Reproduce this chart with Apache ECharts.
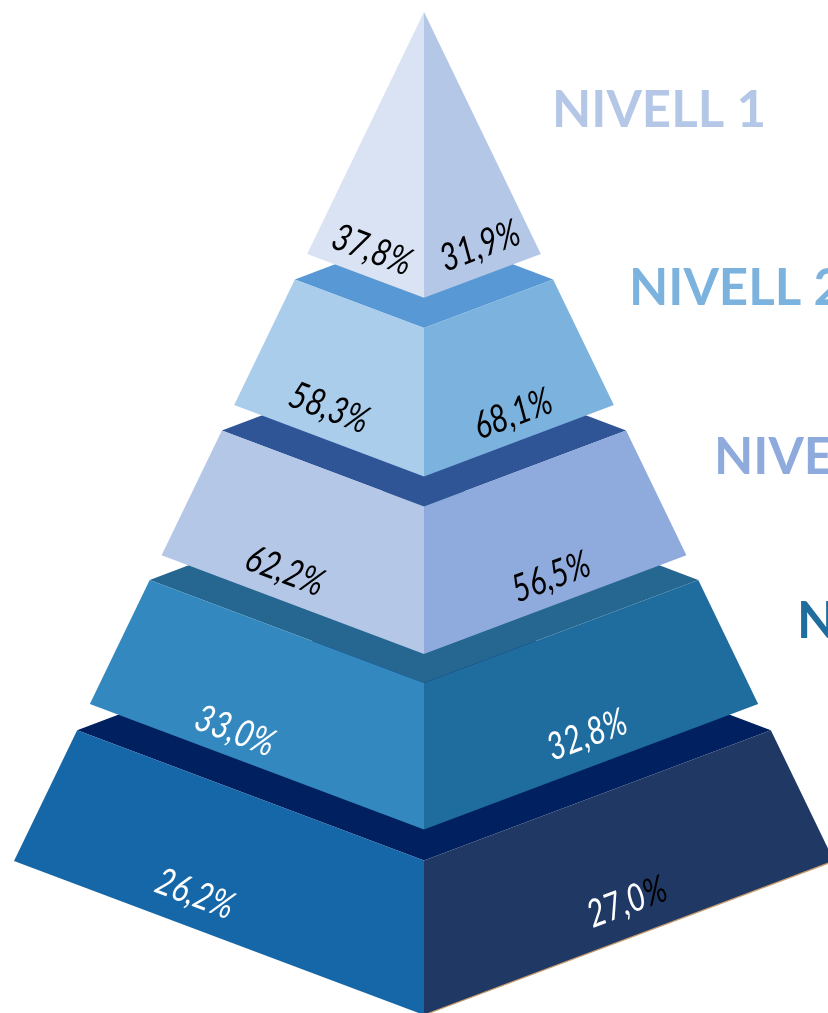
<!DOCTYPE html>
<html>
<head>
<meta charset="utf-8">
<title>Piràmide de nivells</title>
<style>
html, body { margin: 0; padding: 0; background: #ffffff; overflow: hidden; }
#chart { width: 828px; height: 1013px; }
</style>
<script src="https://cdn.jsdelivr.net/npm/echarts@6/dist/echarts.min.js"></script>
</head>
<body>
<div id="chart"></div>
<script>
// values, top level of the pyramid first
var levelNames = ['NIVELL 1', 'NIVELL 2', 'NIVELL 3', 'NIVELL 4'];
var leftValues = [37.8, 58.3, 62.2, 33.0, 26.2];
var rightValues = [31.9, 68.1, 56.5, 32.8, 27.0];

// where each band starts and ends, as a share of the pyramid height
var bandTop = [0, 0.315, 0.493, 0.669, 0.846];
var bandBottom = [0.285, 0.463, 0.64, 0.815, 1];

// pyramid shape in axis units
var centerX = 424, apexY = 12, shapeWidth = 410, shapeHeight = 849, shapeDepth = 154;

var ledgeColors = [null, '#5898D4', '#2F5597', '#256791', '#002060'];
var leftColors = ['#DAE3F3', '#A9CDEB', '#B4C7E7', '#3288BF', '#1667A8'];
var rightColors = ['#B4C7E7', '#7CB3DE', '#8FAADC', '#1F6C9E', '#203864'];
var nameColors = ['#B4C7E7', '#7CB3DE', '#8FAADC', '#1F6C9E'];
var valueColors = ['#000000', '#000000', '#000000', '#ffffff', '#ffffff'];

var namePos = [[552, 111], [629, 289], [714, 458], [797, 622]];
var leftLabelPos = [[372, 250], [329, 408], [285, 571], [235, 731], [195, 894]];
var rightLabelPos = [[480, 246], [513, 414], [551, 577], [587, 735], [627, 902]];

var slant = Math.atan(0.378);

function cut(t) {
    var side = apexY + t * shapeHeight;
    return { w: t * shapeWidth, side: side, front: side + t * shapeDepth };
}

function formatValue(v) {
    return v.toFixed(1).replace('.', ',') + '%';
}

function renderLevel(params, api) {
    var i = api.value(0);
    var top = cut(bandTop[i]);
    var bottom = cut(bandBottom[i]);
    var children = [];

    function poly(points, color) {
        children.push({
            type: 'polygon',
            shape: { points: points.map(function (p) { return api.coord(p); }) },
            style: { fill: color }
        });
    }

    function label(pos, text, rotation, color) {
        var c = api.coord(pos);
        var style = {
            text: text,
            fill: color,
            font: 'italic 33px Lato',
            align: 'center',
            verticalAlign: 'middle'
        };
        // the % of the bottom right band sits dark on the navy face in the original
        if (i === 4 && rotation > 0) {
            style.text = '{a|' + text.slice(0, -1) + '}{b|%}';
            style.rich = {
                a: { fill: color, font: 'italic 33px Lato' },
                b: { fill: '#000000', font: 'italic 33px Lato' }
            };
        }
        children.push({
            type: 'text',
            x: c[0],
            y: c[1],
            rotation: rotation,
            scaleX: 0.92,
            scaleY: 1.15,
            style: style
        });
    }

    if (ledgeColors[i]) {
        poly([
            [centerX - top.w, top.side],
            [centerX, top.side - top.w * 0.378],
            [centerX + top.w, top.side],
            [centerX, top.front]
        ], ledgeColors[i]);
    }

    poly([
        [centerX, top.front],
        [centerX - top.w, top.side],
        [centerX - bottom.w, bottom.side],
        [centerX, bottom.front]
    ], leftColors[i]);

    poly([
        [centerX, top.front],
        [centerX + top.w, top.side],
        [centerX + bottom.w, bottom.side],
        [centerX, bottom.front]
    ], rightColors[i]);

    // thin orange edge under the right face of the base
    if (i === leftValues.length - 1) {
        children.push({
            type: 'polyline',
            shape: {
                points: [
                    api.coord([centerX, bottom.front]),
                    api.coord([centerX + bottom.w, bottom.side])
                ]
            },
            style: { stroke: '#C49A6C', lineWidth: 1.2, fill: null }
        });
    }

    label(leftLabelPos[i], formatValue(api.value(1)), -slant, valueColors[i]);
    label(rightLabelPos[i], formatValue(api.value(2)), slant, valueColors[i]);

    if (levelNames[i]) {
        var n = api.coord(namePos[i]);
        children.push({
            type: 'text',
            x: n[0],
            y: n[1],
            style: {
                text: levelNames[i],
                fill: nameColors[i],
                font: 'bold 51px Lato',
                align: 'left',
                verticalAlign: 'middle'
            }
        });
    }

    return { type: 'group', children: children };
}

// bottom band first, so the upper bands cover the ledges behind them
var rows = [];
for (var i = leftValues.length - 1; i >= 0; i--) {
    rows.push([i, leftValues[i], rightValues[i]]);
}

var chart = echarts.init(document.getElementById('chart'));
chart.setOption({
    animation: false,
    backgroundColor: '#ffffff',
    grid: { left: 0, right: 0, top: 0, bottom: 0 },
    xAxis: { type: 'value', min: 0, max: 828, show: false },
    yAxis: { type: 'value', min: 0, max: 1013, inverse: true, show: false },
    series: [{
        type: 'custom',
        coordinateSystem: 'cartesian2d',
        clip: false,
        renderItem: renderLevel,
        encode: { x: 1, y: 2 },
        data: rows
    }]
});
</script>
</body>
</html>
